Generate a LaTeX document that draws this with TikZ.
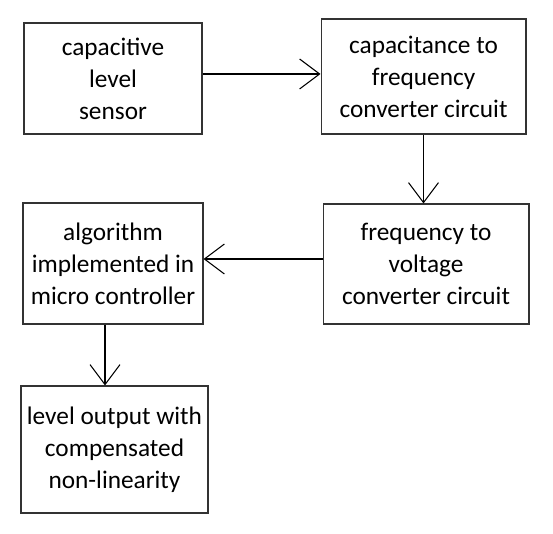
\documentclass[tikz,border=0pt]{standalone}
\usepackage{fontspec}
\setmainfont{Carlito}
\usetikzlibrary{arrows.meta}
\tikzset{
  block/.style={draw=black!80,line width=0.6pt,align=center,inner sep=0pt,
    font=\fontsize{14.4}{18.2}\selectfont},
  flow/.style={->,line width=0.6pt},
  >={Straight Barb[length=0.4cm,width=0.6cm]}
}
\begin{document}
\begin{tikzpicture}[x=0.02cm,y=-0.02cm]
\useasboundingbox (0,0) rectangle (553,533);
\node[block,minimum width=3.56cm,minimum height=2.22cm] (sensor) at (113,78.5) {capacitive\\level\\sensor};
\node[block,minimum width=4.1cm,minimum height=2.3cm] (capfreq) at (423.5,76.5) {capacitance to\\frequency\\converter circuit};
\node[block,minimum width=4.12cm,minimum height=2.4cm] (freqvolt) at (426,264) {frequency to\\voltage\\converter circuit};
\node[block,minimum width=3.6cm,minimum height=2.42cm] (algo) at (113,263.5) {algorithm\\implemented in\\micro controller};
\node[block,minimum width=3.74cm,minimum height=2.54cm] (output) at (114.5,449.5) {level output with\\compensated\\non-linearity};
\draw[flow] ([yshift=0.09cm]sensor.east) -- ([yshift=0.09cm]sensor.east -| capfreq.west);
\draw[flow] (capfreq.south) -- (capfreq.south |- freqvolt.north);
\draw[flow] ([yshift=0.1cm]freqvolt.west) -- ([yshift=0.1cm]freqvolt.west -| algo.east);
\draw[flow] ([xshift=-0.16cm]algo.south) -- ([xshift=-0.16cm]algo.south |- output.north);
\end{tikzpicture}
\end{document}
